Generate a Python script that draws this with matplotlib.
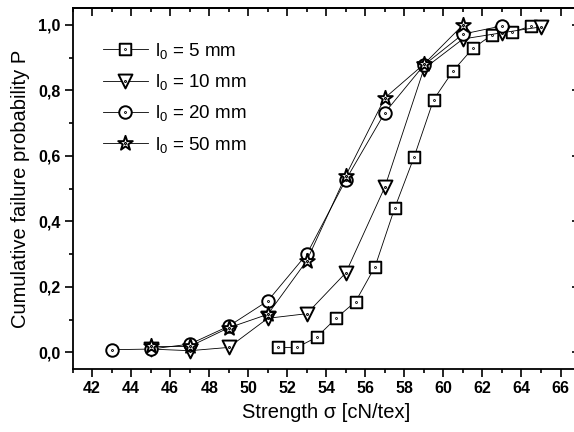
import matplotlib
matplotlib.use("Agg")
import matplotlib.pyplot as plt
from matplotlib.markers import MarkerStyle
from matplotlib.path import Path
from matplotlib.ticker import MultipleLocator, NullFormatter

plt.rcParams["font.family"] = ["Liberation Sans", "DejaVu Sans"]
plt.rcParams["mathtext.fontset"] = "custom"
plt.rcParams["mathtext.rm"] = "Liberation Sans"
plt.rcParams["mathtext.it"] = "Liberation Sans:italic"

# ---- data ----
x_5 = [51.5, 52.5, 53.5, 54.5, 55.5, 56.5, 57.5, 58.5, 59.5, 60.5, 61.5, 62.5, 63.5, 64.5]
p_5 = [0.015, 0.015, 0.046, 0.104, 0.155, 0.262, 0.44, 0.597, 0.772, 0.86, 0.928, 0.97, 0.977, 0.997]

x_10 = [45, 47, 49, 51, 53, 55, 57, 59, 61, 63, 65]
p_10 = [0.01, 0.005, 0.015, 0.104, 0.118, 0.243, 0.505, 0.866, 0.957, 0.976, 0.994]

x_20 = [43, 45, 47, 49, 51, 53, 55, 57, 59, 61, 63]
p_20 = [0.008, 0.01, 0.025, 0.08, 0.157, 0.30, 0.527, 0.732, 0.877, 0.972, 0.997]

x_50 = [45, 47, 49, 51, 53, 55, 57, 59, 61]
p_50 = [0.018, 0.018, 0.075, 0.116, 0.28, 0.54, 0.777, 0.88, 1.0]

labels = ["l$_0$ = 5 mm", "l$_0$ = 10 mm", "l$_0$ = 20 mm", "l$_0$ = 50 mm"]
y_ticks = [0.0, 0.2, 0.4, 0.6, 0.8, 1.0]
y_labels = ["0,0", "0,2", "0,4", "0,6", "0,8", "1,0"]


def dotted(symbol):
    """Open marker with a small dot in the middle (Origin style)."""
    ms = MarkerStyle(symbol)
    base = ms.get_path().transformed(ms.get_transform())
    dot = Path.circle((0, 0), 0.035)
    return Path.make_compound_path(base, dot)


fig = plt.figure(figsize=(5.74, 4.32), dpi=100)
ax = fig.add_axes([0.1265, 0.145, 0.884, 0.836])

series = [
    (x_5, p_5, "s", 8.3),
    (x_10, p_10, "v", 10.0),
    (x_20, p_20, "o", 9.0),
    (x_50, p_50, "*", 11.0),
]
for (xs, ps, mk, size), lab in zip(series, labels):
    ax.plot(xs, ps, color="black", linewidth=0.6, marker=dotted(mk),
            markersize=size, markerfacecolor="white", markeredgecolor="black",
            markeredgewidth=1.4, label=lab)

ax.set_xlim(41, 67)
ax.set_ylim(-0.052, 1.051)
ax.xaxis.set_major_locator(MultipleLocator(2))
ax.xaxis.set_minor_locator(MultipleLocator(1))
ax.set_yticks(y_ticks)
ax.set_yticklabels(y_labels)
ax.yaxis.set_minor_locator(MultipleLocator(0.1))

# left/bottom ticks point outward, top/right ticks inward
ax.tick_params(which="both", direction="out", width=1.2)
ax.tick_params(which="major", length=6, labelsize=11.5, pad=2.5)
ax.tick_params(which="minor", length=3)
for lbl in ax.get_xticklabels() + ax.get_yticklabels():
    lbl.set_fontweight("bold")
for sp in ax.spines.values():
    sp.set_linewidth(1.3)

top = ax.secondary_xaxis("top")
top.xaxis.set_major_locator(MultipleLocator(2))
top.xaxis.set_minor_locator(MultipleLocator(1))
top.xaxis.set_major_formatter(NullFormatter())
right = ax.secondary_yaxis("right")
right.yaxis.set_major_locator(MultipleLocator(0.2))
right.yaxis.set_minor_locator(MultipleLocator(0.1))
right.yaxis.set_major_formatter(NullFormatter())
for sec in (top, right):
    sec.tick_params(which="both", direction="in", width=1.2)
    sec.tick_params(which="major", length=6)
    sec.tick_params(which="minor", length=3)
    for sp in sec.spines.values():
        sp.set_linewidth(1.3)

ax.set_xlabel("Strength σ [cN/tex]", fontsize=14.5, labelpad=5)
ax.set_ylabel("Cumulative failure probability P", fontsize=14.5, labelpad=6)

ax.legend(loc="upper left", bbox_to_anchor=(0.045, 0.93), frameon=False,
          fontsize=13.5, numpoints=1, handlelength=2.4, handletextpad=0.4,
          labelspacing=0.6, borderaxespad=0)

fig.savefig("out.png", dpi=100)
